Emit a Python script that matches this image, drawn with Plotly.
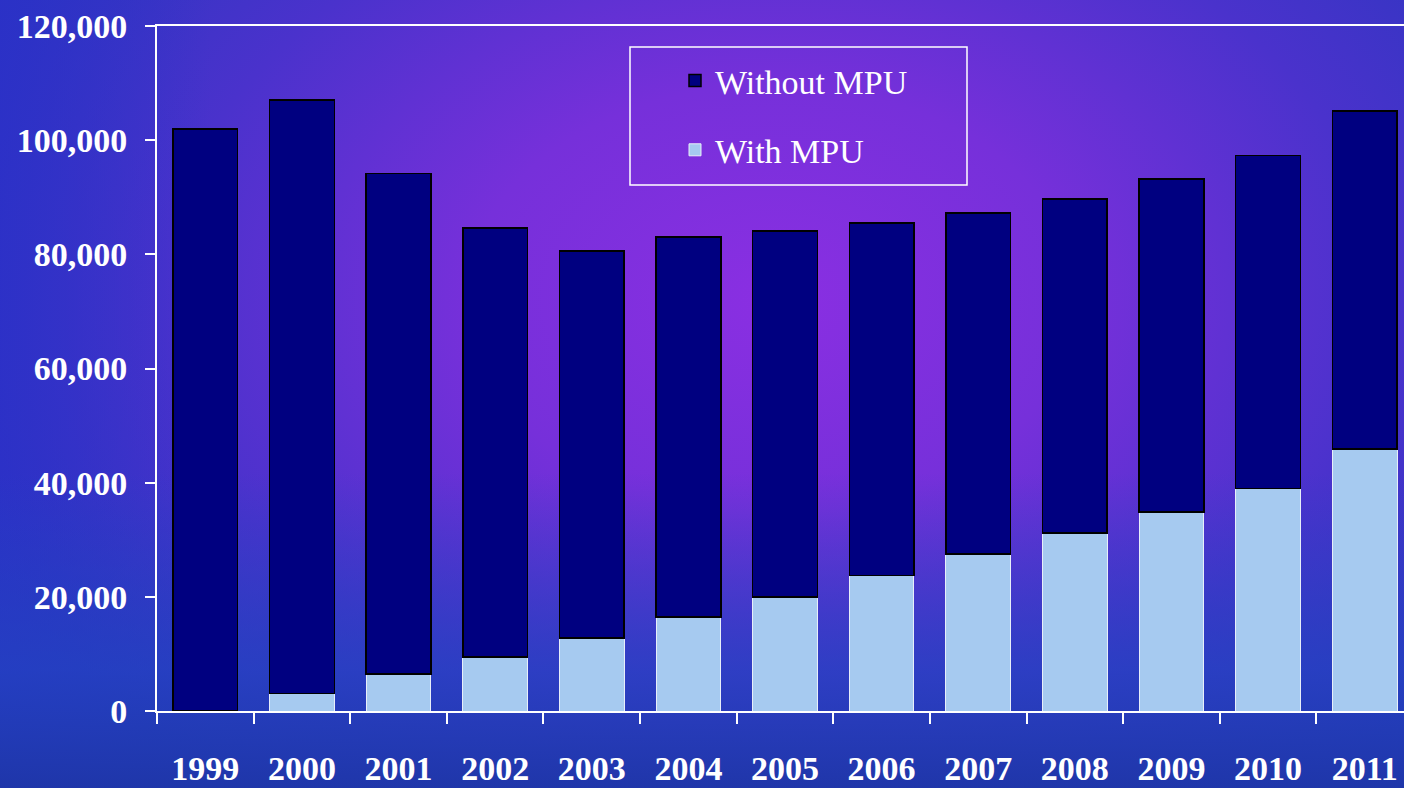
import base64
import plotly.graph_objects as go

years = ["1999", "2000", "2001", "2002", "2003", "2004", "2005",
         "2006", "2007", "2008", "2009", "2010", "2011"]
totals = [102000, 107000, 94200, 84600, 80600, 83000, 84100,
          85500, 87200, 89700, 93200, 97300, 105100]
with_mpu = [0, 3100, 6500, 9500, 12800, 16500, 20000,
            23700, 27500, 31200, 34900, 39000, 45900]
without_mpu = [t - w for t, w in zip(totals, with_mpu)]
y_ticks = [0, 20000, 40000, 60000, 80000, 100000, 120000]

W, H = 1404, 788
L, R, T, B = 157, 0, 26, 77
PW, PH = W - L - R, H - T - B

svg = f"""<svg xmlns='http://www.w3.org/2000/svg' width='{W}' height='{H}' viewBox='0 0 {W} {H}' preserveAspectRatio='none'>
<defs>
<radialGradient id='g' cx='0.55' cy='0.38' r='0.62' gradientTransform='translate(0.55 0.38) scale(1 1.25) translate(-0.55 -0.38)'>
<stop offset='0' stop-color='#8a2fe2'/>
<stop offset='0.35' stop-color='#7630da'/>
<stop offset='0.7' stop-color='#4a32cc'/>
<stop offset='1' stop-color='#2e36c0'/>
</radialGradient>
<linearGradient id='b' x1='0' y1='0' x2='0' y2='1'>
<stop offset='0.6' stop-color='#2242c0' stop-opacity='0'/>
<stop offset='0.85' stop-color='#2242c0' stop-opacity='0.75'/>
<stop offset='1' stop-color='#1e36a8' stop-opacity='0.95'/>
</linearGradient>
<linearGradient id='l' x1='0' y1='0' x2='1' y2='0'>
<stop offset='0' stop-color='#2a30c8' stop-opacity='0.8'/>
<stop offset='0.15' stop-color='#2a30c8' stop-opacity='0'/>
</linearGradient>
</defs>
<rect width='{W}' height='{H}' fill='url(#g)'/>
<rect width='{W}' height='{H}' fill='url(#l)'/>
<rect width='{W}' height='{H}' fill='url(#b)'/>
</svg>"""
bg_uri = "data:image/svg+xml;base64," + base64.b64encode(svg.encode()).decode()

fig = go.Figure()
fig.add_trace(go.Bar(
    x=years, y=with_mpu, name="With MPU", legendgroup="a", legendrank=2,
    marker=dict(color="#A6CAF0", line=dict(color="#e8eefa", width=1)),
))
fig.add_trace(go.Bar(
    x=years, y=without_mpu, name="Without MPU", legendgroup="b", legendrank=1,
    marker=dict(color="#000080", line=dict(color="#000000", width=1.5)),
))

def px_x(p):
    return (p - L) / PW

def px_y(p):
    return (H - B - p) / PH

fig.add_shape(type="rect", xref="paper", yref="paper",
              x0=px_x(630), x1=px_x(967), y0=px_y(185), y1=px_y(47),
              line=dict(color="white", width=1.5), fillcolor="rgba(0,0,0,0)")

fig.add_layout_image(dict(
    source=bg_uri, xref="paper", yref="paper",
    x=-L / PW, y=1 + T / PH, sizex=W / PW, sizey=H / PH,
    xanchor="left", yanchor="top", sizing="stretch", layer="below",
))

fig.update_layout(
    width=W, height=H,
    margin=dict(l=L, r=R, t=T, b=B),
    barmode="stack", bargap=0.33,
    paper_bgcolor="#4a30c8", plot_bgcolor="rgba(0,0,0,0)",
    font=dict(family="Liberation Serif", color="white", size=34),
    showlegend=True,
    legend=dict(
        x=px_x(675), y=px_y(52), xanchor="left", yanchor="top",
        bgcolor="rgba(0,0,0,0)", borderwidth=0,
        font=dict(family="Liberation Serif", size=34, color="white"),
        traceorder="grouped", tracegroupgap=22,
    ),
    xaxis=dict(
        range=[-0.5, 12.5 - (1413 - 1404) / 96.6],
        showline=True, linecolor="white", linewidth=2, mirror=True,
        ticks="outside", tickson="boundaries", ticklen=11, tickcolor="white", tickwidth=1.5,
        tickfont=dict(family="Liberation Serif", size=34, color="white", weight="bold"),
        ticklabelstandoff=26, showgrid=False, zeroline=False,
    ),
    yaxis=dict(
        range=[0, 120000], tickvals=y_ticks, tickformat=",d",
        showline=True, linecolor="white", linewidth=2,
        ticks="outside", ticklen=10, tickcolor="white", tickwidth=1.5,
        tickfont=dict(family="Liberation Serif", size=34, color="white", weight="bold"),
        ticklabelstandoff=11, showgrid=False, zeroline=False,
    ),
)

fig.write_html(
    "out.html",
    config={"displayModeBar": False},
    post_script="document.body.style.margin='0';document.body.style.overflow='hidden';",
)
